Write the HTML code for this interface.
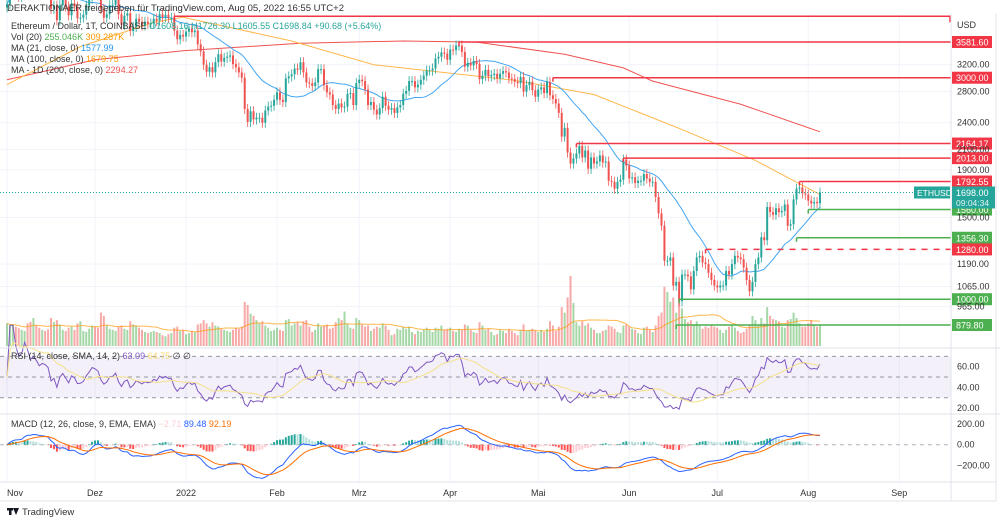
<!DOCTYPE html>
<html><head><meta charset="utf-8"><style>
html,body{margin:0;padding:0;background:#fff;}
svg{display:block;font-family:"Liberation Sans",sans-serif;}
</style></head><body>
<svg id="c" width="1000" height="524" viewBox="0 0 1000 524" xmlns="http://www.w3.org/2000/svg">
<rect x="0" y="0" width="1000" height="524" fill="#fff"/>
<g id="grid"></g>
<g id="vol"></g>
<g id="mas"></g>
<g id="candles"></g>
<g id="levels"></g>
<g id="rsi"></g>
<g id="macd"></g>
<g id="axes"></g>
<text x="7" y="11" font-size="9.5" fill="#333">DERAKTIONAER freigegeben für TradingView.com, Aug 05, 2022 16:55 UTC+2</text>
<g font-size="9">
<text x="11" y="29" fill="#333">Ethereum / Dollar, 1T, COINBASE <tspan fill="#26a69a">O1608.16  H1726.30  L1605.55  C1698.84  +90.68 (+5.64%)</tspan></text>
<text x="11" y="40" fill="#333">Vol (20) <tspan fill="#4caf50">255.046K</tspan> <tspan fill="#ff9800">309.287K</tspan></text>
<text x="11" y="51" fill="#333">MA (21, close, 0) <tspan fill="#2196f3">1577.99</tspan></text>
<text x="11" y="62" fill="#333">MA (100, close, 0) <tspan fill="#ff9800">1679.75</tspan></text>
<text x="11" y="73" fill="#333">MA - 1D (200, close, 0) <tspan fill="#ef5350">2294.27</tspan></text>
<text x="11" y="359" fill="#333">RSI (14, close, SMA, 14, 2) <tspan fill="#7e57c2">63.09</tspan> <tspan fill="#f5d76e">64.75</tspan> ∅ ∅</text>
<text x="11" y="427" fill="#333">MACD (12, 26, close, 9, EMA, EMA) <tspan fill="#ffcdd2">−2.71</tspan> <tspan fill="#2962ff">89.48</tspan> <tspan fill="#ff6d00">92.19</tspan></text>
</g>
<g>
<rect x="7" y="508" width="6" height="2.5" fill="#131722"/><rect x="9" y="508" width="2.5" height="7" fill="#131722"/>
<polygon points="13,508 19,508 16,515" fill="#131722"/>
<text x="22" y="515" font-size="9.5" fill="#333">TradingView</text>
</g>
</svg>
<script>
const closes = [
4320,4590,4600,4530,4480,4520,4810,4740,4630,4720,4660,4570,4640,4620,4560,4220,4290,3990,4300,4430,4270,4090,4340,4270,4030,4040,4100,4290,4440,4630,
4590,4520,4220,4040,4110,4300,4310,4430,4110,3900,4080,4130,3780,3860,4020,3960,3890,3960,3920,3930,4020,3980,4110,4050,4100,4040,4040,3790,3630,3710,3680,
3770,3830,3760,3790,3540,3420,3200,3090,3160,3080,3240,3370,3250,3310,3330,3350,3210,3160,3080,3000,2570,2410,2540,2440,2460,2460,2400,2550,2600,2610,2690,
2790,2690,2660,2990,3020,3050,3140,3120,3240,3080,2930,2920,2880,2930,3130,3130,2890,2790,2760,2620,2570,2640,2590,2600,2770,2780,2620,2920,
2970,2950,2830,2620,2660,2560,2500,2580,2730,2610,2560,2580,2520,2590,2620,2770,2810,2950,2950,2860,2900,2970,3030,3110,3110,3140,3300,3330,3400,3380,3280,
3450,3440,3520,3520,3410,3170,3230,3190,3260,3210,2980,3030,3120,3020,3040,3060,2990,3060,3100,3080,2990,2980,2940,2920,3010,2800,2890,2940,2820,2730,
2830,2860,2780,2940,2750,2700,2640,2520,2240,2340,2070,1960,2010,2060,2140,2020,2090,1910,2020,1960,1980,2040,1970,1980,1800,1790,1730,1790,1810,2000,1940,
1820,1830,1780,1800,1800,1860,1820,1790,1790,1660,1530,1440,1210,1210,1230,1070,1090,990,1130,1130,1120,1050,1150,1230,1240,1200,1190,1140,1100,1070,
1060,1070,1070,1150,1130,1190,1240,1230,1220,1170,1100,1040,1090,1190,1230,1360,1340,1580,1540,1520,1570,1540,1550,1600,1440,1450,1640,1730,1740,1690,1680,
1630,1608,1620,1610,1698];
const volumes = [
420,380,400,360,330,300,280,420,450,520,380,340,300,280,310,520,440,480,400,300,280,340,360,300,420,460,280,260,320,380,
360,340,620,560,380,320,300,280,360,380,320,300,460,400,380,340,300,260,240,260,280,260,240,200,180,220,240,340,360,280,300,
220,240,280,260,400,420,480,420,360,440,380,360,320,300,280,260,300,340,320,360,820,760,600,560,480,420,460,380,340,280,300,
340,300,280,480,500,380,420,440,380,460,480,360,260,300,420,360,380,400,320,340,440,520,480,640,420,340,320,520,
480,400,360,380,280,320,360,340,420,380,300,200,220,320,300,360,320,360,260,220,280,260,300,340,300,260,340,320,380,300,320,
340,280,260,320,300,400,380,300,260,240,440,380,300,320,260,200,220,300,280,240,320,280,240,200,300,400,280,300,320,280,
260,300,260,320,460,380,280,360,720,620,900,1300,800,440,380,460,380,420,340,300,240,240,280,300,380,360,320,260,240,380,400,
360,320,300,240,220,340,360,300,260,380,560,620,1100,1000,820,900,620,840,700,500,440,480,400,460,380,320,360,340,380,360,
340,300,240,300,360,380,340,280,240,260,320,400,560,480,380,520,420,720,560,500,480,460,360,340,480,500,620,520,420,360,360,
420,480,400,360,380];
const ma100Days = [0,25,50,60,97,125,173,200,230,255,277];
const ma100Vals = [2900,3500,3950,4050,3600,3200,2960,2760,2320,1990,1680];
const ma200Days = [0,30,60,100,135,160,190,210,220,250,277];
const ma200Vals = [2970,3280,3430,3560,3600,3580,3370,3150,2950,2630,2294];
const levelPrices = [4070,3581.6,3000,2164.17,2013,1792.55,1560,1356.3,1280,1000,879.8];
const levelStartDay = [57,154,186,194,210,270,273,269,238,229,228];
const levelColors = ['#f23645','#f23645','#f23645','#f23645','#f23645','#f23645','#4caf50','#4caf50','#f23645','#4caf50','#4caf50'];
const levelDashed = [0,0,0,0,0,0,0,0,1,0,0];
const levelLabels = ['','3581.60','3000.00','2164.17','2013.00','1792.55','1560.00','1356.30','1280.00','1000.00','879.80'];
const priceTicks = [3200,2800,2400,2100,1900,1500,1190,1065,965];
const monthLabels = ['Nov','Dez','2022','Feb','Mrz','Apr','Mai','Jun','Jul','Aug','Sep'];
const monthDays = [0,30,61,92,120,151,181,212,242,273,304];
const rsiTicks = [60,40,20];
const macdTicks = [200,0,-200];

const NS='http://www.w3.org/2000/svg';
function mk(parent,tag,attrs){const e=document.createElementNS(NS,tag);for(const k in attrs)e.setAttribute(k,attrs[k]);parent.appendChild(e);return e;}
const X = i => 7 + i*2.935;
const LTOP = Math.log(3581.6);
const Y = p => 42 + (LTOP - Math.log(p))*201.6;
const YR = v => 366.7 - (v-60)*1.035;
const YM = v => 444.7 - v*0.1035;
const VB = 346, VS = 70/1300;
const PR = 951;

const grid=document.getElementById('grid'), axes=document.getElementById('axes');
// grid verticals
monthDays.forEach((d,k)=>{
  const l=mk(grid,'line',{x1:X(d),x2:X(d),y1:14,y2:482,stroke:'#f0f3fa','stroke-width':1});
  
  
  const t=mk(axes,'text',{x:X(d),y:496,'font-size':9,'text-anchor':d===0?'start':'middle',fill:'#333'});
  t.textContent=monthLabels[k];
  
  
});
priceTicks.forEach(p=>{
  const l=mk(grid,'line',{x1:0,x2:PR,y1:Y(p),y2:Y(p),stroke:'#f0f3fa'});
  
  
  const t=mk(axes,'text',{x:957,y:Y(p)+3,'font-size':9,fill:'#333'});
  t.textContent=p.toFixed(2);
  
  
});
const usd=mk(axes,'text',{x:957,y:28,'font-size':9,fill:'#333'});usd.textContent='USD';


// pane separators & axis lines
[[0,348,1000,348],[0,414,1000,414],[0,482,996,482],[0,501,996,501],[PR,14,PR,501],[996,14,996,501]].forEach(a=>{
  const l=mk(axes,'line',{x1:a[0],y1:a[1],x2:a[2],y2:a[3],stroke:'#e0e3eb'});
  
  
});

// volume
const vol=document.getElementById('vol');
volumes.forEach((v,i)=>{
  const o=i?closes[i-1]:closes[0]-1, up=closes[i]>=o;
  const r=mk(vol,'rect',{x:X(i)-1,y:VB-v*VS,width:2,height:v*VS,fill:up?'rgba(76,175,80,0.5)':'rgba(239,83,80,0.5)'});
  
  
});
function sma(arr,n){return arr.map((_,i)=>{const s=Math.max(0,i-n+1);let t=0;for(let j=s;j<=i;j++)t+=arr[j];return t/(i-s+1);});}
const vma=sma(volumes,20);
const vml=mk(vol,'polyline',{points:vma.map((v,i)=>X(i)+','+(VB-v*VS)).join(' '),fill:'none',stroke:'#ff9800','stroke-width':1,opacity:0.7});



// MAs
const mas=document.getElementById('mas');
const m200=mk(mas,'polyline',{points:ma200Days.map((d,k)=>X(d)+','+Y(ma200Vals[k])).join(' '),fill:'none',stroke:'#ef5350','stroke-width':1});


const m100=mk(mas,'polyline',{points:ma100Days.map((d,k)=>X(d)+','+Y(ma100Vals[k])).join(' '),fill:'none',stroke:'#ffb74d','stroke-width':1});


const ma21=sma(closes,21);
const m21=mk(mas,'polyline',{points:ma21.map((v,i)=>X(i)+','+Y(v)).join(' '),fill:'none',stroke:'#42a5f5','stroke-width':1});



// candles
const cg=document.getElementById('candles');
closes.forEach((c,i)=>{
  const o=i?closes[i-1]:4250, up=c>=o;
  const hi=Math.max(o,c)*1.025, lo=Math.min(o,c)*0.975;
  const col=up?'#26a69a':'#ef5350';
  const w=mk(cg,'line',{x1:X(i),x2:X(i),y1:Y(hi),y2:Y(lo),stroke:col,'stroke-width':0.8});
  
  
  const yt=Y(Math.max(o,c)), yb=Y(Math.min(o,c));
  const b=mk(cg,'rect',{x:X(i)-1,y:yt,width:2,height:Math.max(1,yb-yt),fill:col});
  
  
});

// levels
const lg=document.getElementById('levels');
levelPrices.forEach((p,k)=>{
  const y=Y(p);
  const l=mk(lg,'line',{x1:X(levelStartDay[k]),x2:PR,y1:y,y2:y,stroke:levelColors[k],'stroke-width':1.5});
  if(levelDashed[k]) l.setAttribute('stroke-dasharray','6,6');
  
  
  const v=mk(lg,'line',{x1:X(levelStartDay[k]),x2:X(levelStartDay[k]),y1:y,y2:y+4,stroke:levelColors[k],'stroke-width':1.5});
  
  
  if(levelLabels[k]){
    const r=mk(lg,'rect',{x:952,y:y-6,width:40,height:12,fill:levelColors[k]});
    
    
    const t=mk(lg,'text',{x:956,y:y+3.5,'font-size':9,fill:'#fff'});
    t.textContent=levelLabels[k];
    
    
  }
});
const edge=mk(lg,'line',{x1:PR-1,x2:PR-1,y1:Y(4070),y2:Y(4070)+6,stroke:'#f23645','stroke-width':1.5});


// last price
const lp=closes[closes.length-1], ly=Y(lp);
const dl=mk(lg,'line',{x1:0,x2:PR,y1:ly,y2:ly,stroke:'#26a69a','stroke-dasharray':'1,2','stroke-width':1});


const sb=mk(lg,'rect',{x:914,y:ly-6,width:36,height:12,fill:'#26a69a'});


const st=mk(lg,'text',{x:917,y:ly+3.5,'font-size':8.5,fill:'#fff'});st.textContent='ETHUSD';


const pb=mk(lg,'rect',{x:952,y:ly-6,width:43,height:22,fill:'#26a69a'});


const pt=mk(lg,'text',{x:956,y:ly+3.5,'font-size':9,fill:'#fff'});pt.textContent=lp.toFixed(2);


const ct=mk(lg,'text',{x:956,y:ly+13.5,'font-size':8.5,fill:'#e0f2f1'});ct.textContent='09:04:34';



// RSI
const rg=document.getElementById('rsi');
const band=mk(rg,'rect',{x:0,y:YR(70),width:PR,height:YR(30)-YR(70),fill:'rgba(126,87,194,0.09)'});


[70,50,30].forEach(v=>{
  const l=mk(rg,'line',{x1:0,x2:PR,y1:YR(v),y2:YR(v),stroke:'#9598a1','stroke-dasharray':'4,4'});
  
  
});
let ag=0,al=0;const rsi=[];
closes.forEach((c,i)=>{
  if(i===0){rsi.push(50);return;}
  const d=c-closes[i-1], g=Math.max(d,0), l=Math.max(-d,0);
  if(i<=14){ag=(ag*(i-1)+g)/i;al=(al*(i-1)+l)/i;}else{ag=(ag*13+g)/14;al=(al*13+l)/14;}
  rsi.push(al===0?100:100-100/(1+ag/al));
});
const rsiS=sma(rsi,14);
const rl=mk(rg,'polyline',{points:rsi.map((v,i)=>X(i)+','+YR(v)).join(' '),fill:'none',stroke:'#7e57c2','stroke-width':1});


const rsl=mk(rg,'polyline',{points:rsiS.map((v,i)=>X(i)+','+YR(v)).join(' '),fill:'none',stroke:'#f5e08a','stroke-width':1});


rsiTicks.forEach(v=>{
  const t=mk(axes,'text',{x:957,y:YR(v)+3,'font-size':9,fill:'#333'});t.textContent=v.toFixed(2);
  
  
});

// MACD
const mg=document.getElementById('macd');
function ema(arr,n){const k=2/(n+1);const out=[];arr.forEach((v,i)=>out.push(i?v*k+out[i-1]*(1-k):v));return out;}
const e12=ema(closes,12),e26=ema(closes,26);
const macd=e12.map((v,i)=>v-e26[i]);
const sig=ema(macd,9);
const zl=mk(mg,'line',{x1:0,x2:PR,y1:YM(0),y2:YM(0),stroke:'#b2b5be','stroke-dasharray':'4,4'});


macd.forEach((m,i)=>{
  const h=m-sig[i], ph=i?macd[i-1]-sig[i-1]:0;
  const col=h>=0?(h>=ph?'#26a69a':'#b2dfdb'):(h<ph?'#ff5252':'#ffcdd2');
  const y0=YM(0), y1=YM(h);
  const r=mk(mg,'rect',{x:X(i)-1,y:Math.min(y0,y1),width:2,height:Math.max(0.5,Math.abs(y1-y0)),fill:col});
  
  
});
const ml=mk(mg,'polyline',{points:macd.map((v,i)=>X(i)+','+YM(v)).join(' '),fill:'none',stroke:'#2962ff','stroke-width':1});


const sl=mk(mg,'polyline',{points:sig.map((v,i)=>X(i)+','+YM(v)).join(' '),fill:'none',stroke:'#ff6d00','stroke-width':1});


macdTicks.forEach(v=>{
  const t=mk(axes,'text',{x:957,y:YM(v)+3,'font-size':9,fill:'#333'});t.textContent=(v<0?'−':'')+Math.abs(v).toFixed(2);
  
  
});
</script>
</body></html>
